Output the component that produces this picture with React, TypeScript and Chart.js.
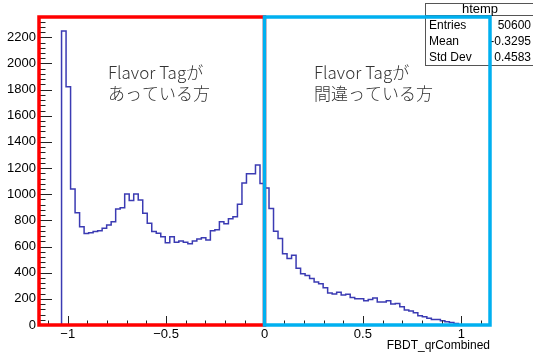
import React, { useEffect, useRef } from 'react';
import { Chart, registerables } from 'chart.js';

Chart.register(...registerables);

// ---- data ----
const X_MIN = -1.146;
const X_MAX = 1.146;
const N_BINS = 100;

// bin contents of htemp, 100 bins from X_MIN to X_MAX
const binCounts: number[] = [
  0, 0, 0, 0, 0, 0, 2248, 1822, 1040, 859,
  752, 700, 706, 714, 721, 739, 765, 790, 887, 897,
  1002, 951, 1002, 956, 854, 778, 714, 701, 675, 629,
  675, 632, 642, 632, 622, 642, 658, 668, 650, 721,
  729, 790, 775, 812, 828, 923, 1086, 1157, 1157, 1224,
  1082, 1047, 890, 716, 662, 545, 508, 534, 434, 392,
  378, 355, 328, 315, 285, 245, 237, 250, 230, 236,
  210, 200, 200, 185, 195, 206, 176, 176, 186, 160,
  164, 140, 115, 107, 94, 71, 64, 51, 43, 43,
  33, 25, 20, 12, 0, 0, 0, 0, 0, 0,
];

const Y_MAX = 2355;
const yMajorStep = 200;
const yMinorStep = 40;
const xMajorStep = 0.5;
const xMinorStep = 0.1;

const xAxisTitle = 'FBDT_qrCombined';
const statsTitle = 'htemp';
const statsLabels = ['Entries', 'Mean', 'Std Dev'];
const statsValues = ['50600', '-0.3295', '0.4583'];
const leftNote = ['Flavor Tagが', 'あっている方'];
const rightNote = ['Flavor Tagが', '間違っている方'];

const ROOT_FONT = '"Liberation Sans", Arial, sans-serif';
const NOTE_FONT = '"Noto Sans CJK JP", "Noto Sans", sans-serif';

const fmt = (v: number) => {
  const r = Math.round(v * 1000) / 1000;
  return r < 0 ? '\u2212' + String(Math.abs(r)) : String(r);
};

const overlayPlugin = {
  id: 'rootOverlay',
  afterDatasetsDraw(chart: any) {
    const { ctx, chartArea, scales } = chart;
    const { left, right, top, bottom } = chartArea;
    const xs = scales.x;
    const ys = scales.y;
    ctx.save();

    // axis ticks (inside the frame, ROOT style)
    ctx.strokeStyle = '#222';
    ctx.lineWidth = 1;
    ctx.beginPath();
    const nY = Math.floor(ys.max / yMinorStep);
    for (let i = 0; i <= nY; i++) {
      const v = i * yMinorStep;
      const py = Math.round(ys.getPixelForValue(v)) + 0.5;
      const major = v % yMajorStep === 0;
      ctx.moveTo(left, py);
      ctx.lineTo(left + (major ? 13 : 6.5), py);
    }
    const iMin = Math.ceil(xs.min / xMinorStep - 1e-9);
    const iMax = Math.floor(xs.max / xMinorStep + 1e-9);
    const perMajor = Math.round(xMajorStep / xMinorStep);
    for (let i = iMin; i <= iMax; i++) {
      const px = Math.round(xs.getPixelForValue(i * xMinorStep)) + 0.5;
      const major = i % perMajor === 0;
      ctx.moveTo(px, bottom);
      ctx.lineTo(px, bottom - (major ? 9 : 4.5));
    }
    ctx.stroke();

    // stats box
    const bx = 425, by = 3, bw = 110, bh = 62;
    ctx.fillStyle = '#ffffff';
    ctx.fillRect(bx, by, bw, bh);
    ctx.strokeStyle = '#555';
    ctx.lineWidth = 1;
    ctx.strokeRect(bx + 0.5, by + 0.5, bw, bh);
    ctx.beginPath();
    ctx.moveTo(bx, 15.5);
    ctx.lineTo(bx + bw, 15.5);
    ctx.stroke();
    ctx.fillStyle = '#000';
    ctx.textBaseline = 'middle';
    ctx.font = '13px ' + ROOT_FONT;
    ctx.textAlign = 'center';
    ctx.fillText(statsTitle, bx + bw / 2, 9.5);
    ctx.font = '12px ' + ROOT_FONT;
    const rowsY = [26, 42, 57.5];
    statsLabels.forEach((lab, i) => {
      ctx.textAlign = 'left';
      ctx.fillText(lab, bx + 4, rowsY[i]);
      ctx.textAlign = 'right';
      ctx.fillText(statsValues[i], 531, rowsY[i]);
    });

    // red / blue boxes
    const x0 = xs.getPixelForValue(0);
    ctx.lineWidth = 3.5;
    ctx.strokeStyle = '#ff0000';
    ctx.strokeRect(left, top, x0 - left, bottom - top);
    ctx.strokeStyle = '#00b0f0';
    ctx.strokeRect(x0, top, right - x0, bottom - top);

    // notes
    ctx.fillStyle = '#333333';
    ctx.font = '300 17px ' + NOTE_FONT;
    ctx.textAlign = 'left';
    ctx.textBaseline = 'alphabetic';
    ctx.fillText(leftNote[0], 108, 79);
    ctx.fillText(leftNote[1], 108, 100);
    ctx.fillText(rightNote[0], 314, 79);
    ctx.fillText(rightNote[1], 314, 100);

    ctx.restore();
  },
};

export default function App() {
  const canvasRef = useRef<HTMLCanvasElement | null>(null);

  useEffect(() => {
    const canvas = canvasRef.current;
    if (!canvas) return;
    const binWidth = (X_MAX - X_MIN) / N_BINS;
    const points = binCounts.map((c, i) => ({ x: X_MIN + i * binWidth, y: c }));
    points.push({ x: X_MAX, y: binCounts[N_BINS - 1] });

    const chart = new Chart(canvas, {
      type: 'line',
      data: {
        datasets: [
          {
            data: points,
            stepped: 'after',
            borderColor: '#3b3bb3',
            borderWidth: 1.5,
            pointRadius: 0,
            fill: false,
          },
        ],
      },
      options: {
        animation: false,
        responsive: false,
        devicePixelRatio: 1,
        layout: { padding: { left: 0, top: 17, right: 43, bottom: 0 } },
        plugins: { legend: { display: false }, tooltip: { enabled: false }, title: { display: false } },
        scales: {
          x: {
            type: 'linear',
            min: X_MIN,
            max: X_MAX,
            grid: { display: false, drawTicks: false },
            border: { display: false },
            ticks: {
              stepSize: xMajorStep,
              includeBounds: false,
              padding: 2,
              maxRotation: 0,
              color: '#000',
              font: { family: ROOT_FONT, size: 13 },
              callback: (v: any) => fmt(Number(v)),
            },
            title: {
              display: true,
              text: xAxisTitle,
              align: 'end',
              color: '#000',
              font: { family: ROOT_FONT, size: 12 },
              padding: { top: 0, bottom: 5 },
            },
            afterFit: (s: any) => { s.height = 33; },
          },
          y: {
            type: 'linear',
            min: 0,
            max: Y_MAX,
            grid: { display: false, drawTicks: false },
            border: { display: false },
            ticks: {
              stepSize: yMajorStep,
              includeBounds: false,
              padding: 3,
              color: '#000',
              font: { family: ROOT_FONT, size: 13 },
              callback: (v: any) => fmt(Number(v)),
            },
            afterFit: (s: any) => { s.width = 39; },
          },
        },
      },
      plugins: [overlayPlugin],
    });
    return () => chart.destroy();
  }, []);

  return (
    <div style={{ position: 'fixed', left: 0, top: 0, width: 533, height: 358, background: '#ffffff' }}>
      <canvas ref={canvasRef} width={533} height={358} style={{ display: 'block' }} />
    </div>
  );
}
